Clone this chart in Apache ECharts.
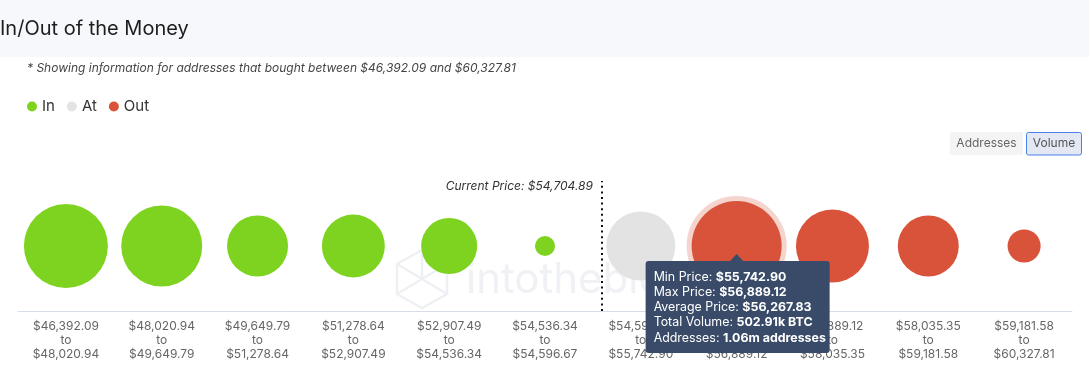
<!DOCTYPE html>
<html>
<head>
<meta charset="utf-8">
<script src="https://cdn.jsdelivr.net/npm/echarts@6/dist/echarts.min.js"></script>
<style>
html,body{margin:0;padding:0;background:#fff;}
#chart{width:1089px;height:366px;}
</style>
</head>
<body>
<div id="chart"></div>
<script>
// ---- data ----
const bins = [46392.09, 48020.94, 49649.79, 51278.64, 52907.49, 54536.34, 54596.67, 55742.90, 56889.12, 58035.35, 59181.58, 60327.81];
const status = ['In', 'In', 'In', 'In', 'In', 'In', 'At', 'Out', 'Out', 'Out', 'Out'];
const volumes = [438, 407, 231, 246, 195, 25, 296, 502.91, 331, 231, 68]; // k BTC
const currentPrice = 54704.89;
const legendNames = ['In', 'At', 'Out'];
const tipIndex = 7;
const tipAvgPrice = 56267.83;
const tipAddresses = '1.06m';

// ---- styles ----
const FONT = 'Inter, "Noto Sans", sans-serif';
const colors = { In: '#7ed321', At: '#e3e3e3', Out: '#d9533b' };
const sizeK = 4.013;

const fmt = v => '$' + v.toLocaleString('en-US', { minimumFractionDigits: 2, maximumFractionDigits: 2 });
const categories = bins.slice(0, -1).map((b, i) => fmt(b) + '\nto\n' + fmt(bins[i + 1]));

// position of the current price on a continuous index scale
let pricePos = 0;
for (let i = 0; i < bins.length - 1; i++) {
  if (currentPrice >= bins[i] && currentPrice < bins[i + 1]) {
    pricePos = i + (currentPrice - bins[i]) / (bins[i + 1] - bins[i]);
  }
}

const chart = echarts.init(document.getElementById('chart'), null, { renderer: 'canvas' });

const series = legendNames.map(name => ({
  name: name,
  type: 'scatter',
  xAxisIndex: 0,
  yAxisIndex: 0,
  symbol: 'circle',
  symbolSize: v => sizeK * Math.sqrt(v[2]),
  itemStyle: { color: colors[name], opacity: 1 },
  emphasis: { disabled: true },
  data: volumes.map((v, i) => status[i] === name ? (i === tipIndex ? {
    value: [i, 0, v],
    itemStyle: { borderColor: 'rgba(217,83,59,0.25)', borderWidth: 10 }
  } : [i, 0, v]) : null).filter(d => d !== null)
}));

series.push({
  name: 'current',
  type: 'line',
  xAxisIndex: 1,
  yAxisIndex: 0,
  data: [],
  markLine: {
    silent: true,
    symbol: 'none',
    label: { show: false },
    lineStyle: { color: '#111', width: 2, type: [2, 3.6] },
    data: [{ xAxis: pricePos }]
  }
});

const option = {
  animation: false,
  textStyle: { fontFamily: FONT },
  title: [
    { text: 'In/Out of the Money', left: 0, top: 19, padding: 0,
      textStyle: { fontSize: 20, fontWeight: 'normal', color: '#1d1d1f', fontFamily: FONT } },
    { text: '* Showing information for addresses that bought between ' + fmt(bins[0]) + ' and ' + fmt(bins[bins.length - 1]),
      left: 27, top: 62, padding: 0,
      textStyle: { fontSize: 12, fontStyle: 'italic', fontWeight: 'normal', color: '#444', fontFamily: FONT } }
  ],
  legend: {
    data: legendNames,
    left: 27, top: 99, padding: 0,
    icon: 'circle', itemWidth: 10, itemHeight: 10, itemGap: 12,
    selectedMode: false,
    textStyle: { fontSize: 15, color: '#333', fontFamily: FONT }
  },
  grid: { left: 18, right: 17, top: 181, bottom: 55 },
  xAxis: [
    {
      type: 'category',
      data: categories,
      boundaryGap: true,
      axisLine: { onZero: false, lineStyle: { color: '#d6dce8', width: 1 } },
      axisTick: { show: false },
      splitLine: { show: false },
      axisLabel: { interval: 0, fontSize: 12, color: '#666', lineHeight: 14, margin: 8, fontFamily: FONT }
    },
    { type: 'value', min: 0, max: categories.length, show: false }
  ],
  yAxis: { type: 'value', min: -1, max: 1, show: false },
  series: series
};

chart.setOption(option);

// positions derived from the chart's own scales
const c = chart.convertToPixel({ seriesIndex: 2 }, [tipIndex, 0]);
const lineX = chart.convertToPixel({ xAxisIndex: 1 }, pricePos);
const tipW = 184, tipH = 92;
const tipLeft = c[0] - 91, tipTop = c[1] + 15;

const tipText = [
  '{n|Min Price: }{b|' + fmt(bins[tipIndex]) + '}',
  '{n|Max Price: }{b|' + fmt(bins[tipIndex + 1]) + '}',
  '{n|Average Price: }{b|' + fmt(tipAvgPrice) + '}',
  '{n|Total Volume: }{b|' + volumes[tipIndex] + 'k BTC}',
  '{n|Addresses: }{b|' + tipAddresses + ' addresses}'
].join('\n');

chart.setOption({
  graphic: [
    { type: 'rect', z: -10, silent: true, shape: { x: 0, y: 0, width: 1089, height: 57 }, style: { fill: '#f7f8fb' } },
    // watermark
    { type: 'polyline', z: 0, silent: true,
      shape: { points: [[422, 250], [447, 264], [447, 294], [422, 308], [397, 294], [397, 264], [422, 250]] },
      style: { stroke: '#eef0f4', lineWidth: 2.5, fill: null } },
    { type: 'polyline', z: 0, silent: true,
      shape: { points: [[397, 264], [447, 294]] }, style: { stroke: '#eef0f4', lineWidth: 2.5 } },
    { type: 'polyline', z: 0, silent: true,
      shape: { points: [[397, 294], [447, 264]] }, style: { stroke: '#eef0f4', lineWidth: 2.5 } },
    { type: 'polyline', z: 0, silent: true,
      shape: { points: [[422, 250], [422, 279]] }, style: { stroke: '#eef0f4', lineWidth: 2.5 } },
    { type: 'text', z: 0, silent: true,
      style: { x: 466, y: 280, text: 'intotheblock', fill: '#f0f1f5', font: '42px ' + FONT, verticalAlign: 'middle' } },
    // buttons
    { type: 'rect', z: 5, shape: { x: 950, y: 132, width: 73, height: 23, r: 2 }, style: { fill: '#f4f4f4' } },
    { type: 'text', z: 6, style: { x: 986.5, y: 143.5, text: 'Addresses', fill: '#666', font: '12px ' + FONT, align: 'center', verticalAlign: 'middle' } },
    { type: 'rect', z: 5, shape: { x: 1026.5, y: 132.5, width: 55, height: 22.5, r: 2 }, style: { fill: '#e3e8f4', stroke: '#4a80e8', lineWidth: 1 } },
    { type: 'text', z: 6, style: { x: 1054, y: 143.5, text: 'Volume', fill: '#555', font: '12px ' + FONT, align: 'center', verticalAlign: 'middle' } },
    // current price label
    { type: 'text', z: 6, style: { x: lineX - 9, y: 186, text: 'Current Price: ' + fmt(currentPrice), fill: '#333', font: 'italic 12px ' + FONT, align: 'right', verticalAlign: 'middle' } },
    // tooltip
    { type: 'polygon', z: 100, silent: true,
      shape: { points: [[c[0] - 7, tipTop + 0.5], [c[0], tipTop - 7], [c[0] + 7, tipTop + 0.5]] },
      style: { fill: '#394b68' } },
    { type: 'rect', z: 100, silent: true, shape: { x: tipLeft, y: tipTop, width: tipW, height: tipH, r: 3 }, style: { fill: '#394b68' } },
    { type: 'text', z: 101, silent: true,
      style: {
        x: tipLeft + 8, y: tipTop + 8.5, text: tipText, verticalAlign: 'top',
        rich: {
          n: { fill: '#ffffff', fontSize: 12.4, fontFamily: FONT, lineHeight: 15.2 },
          b: { fill: '#ffffff', fontSize: 12.4, fontWeight: 'bold', fontFamily: FONT, lineHeight: 15.2 }
        }
      } }
  ]
});
</script>
</body>
</html>
